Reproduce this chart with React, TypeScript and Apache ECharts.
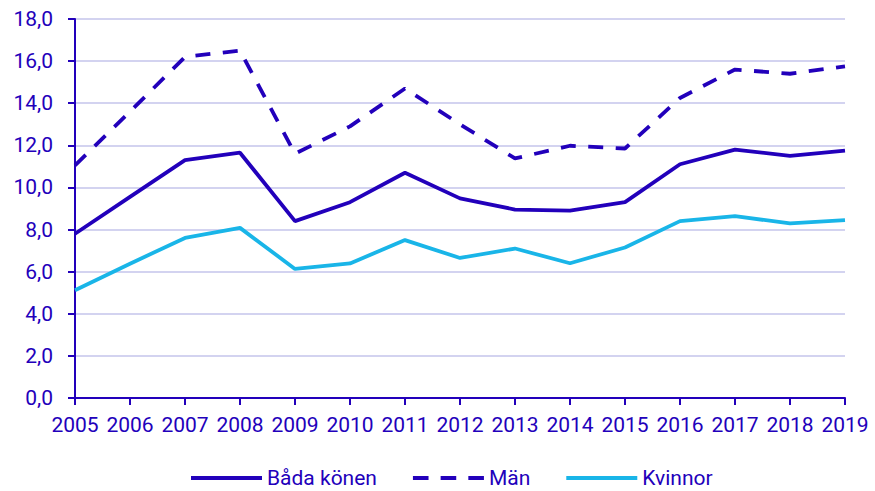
import React, { useEffect, useRef } from "react";
import * as echarts from "echarts";

const years = ["2005","2006","2007","2008","2009","2010","2011","2012","2013","2014","2015","2016","2017","2018","2019"];
const badaKonen = [7.8, 9.55, 11.3, 11.65, 8.4, 9.3, 10.7, 9.48, 8.95, 8.9, 9.3, 11.1, 11.8, 11.5, 11.75];
const man = [11.05, 13.6, 16.2, 16.5, 11.6, 12.9, 14.7, 13.0, 11.38, 11.98, 11.85, 14.25, 15.6, 15.4, 15.75];
const kvinnor = [5.12, 6.38, 7.6, 8.08, 6.13, 6.39, 7.5, 6.65, 7.1, 6.4, 7.15, 8.4, 8.64, 8.29, 8.45];

const DARK = "#2200bb";
const LIGHT = "#19b5e8";
const FONT = "Roboto";

const SOLID_ICON = "path://M0,0h71v4h-71z";
const DASH_ICON = "path://M0,0h15.6v4h-15.6z M27.7,0h15.6v4h-15.6z M55.4,0h15.6v4h-15.6z";

export default function App() {
  const ref = useRef<HTMLDivElement>(null);
  useEffect(() => {
    const chart = echarts.init(ref.current!, null, { renderer: "svg" });
    chart.setOption({
      animation: false,
      textStyle: { fontFamily: FONT },
      grid: { left: 75, right: 30, top: 19, bottom: 93 },
      legend: {
        top: 467,
        left: 191,
        padding: 0,
        itemWidth: 71,
        itemHeight: 4,
        itemGap: 36,
        textStyle: { color: DARK, fontSize: 21, fontFamily: FONT, lineHeight: 22 },
        data: [
          { name: "Båda könen", icon: SOLID_ICON, itemStyle: { color: DARK } },
          { name: "Män", icon: DASH_ICON, itemStyle: { color: DARK } },
          { name: "Kvinnor", icon: SOLID_ICON, itemStyle: { color: LIGHT } },
        ],
      },
      xAxis: {
        type: "category",
        data: years,
        boundaryGap: false,
        axisLine: { lineStyle: { color: DARK, width: 2 } },
        axisTick: { lineStyle: { color: DARK, width: 2 }, length: 7, alignWithLabel: true },
        axisLabel: { color: DARK, fontSize: 21, margin: 16, interval: 0 },
        splitLine: { show: false },
      },
      yAxis: {
        type: "value",
        min: 0,
        max: 18,
        interval: 2,
        axisLine: { show: true, lineStyle: { color: DARK, width: 2 } },
        axisTick: { show: true, lineStyle: { color: DARK, width: 2 }, length: 7 },
        axisLabel: {
          color: DARK,
          fontSize: 21,
          margin: 22,
          formatter: (v: number) => v.toFixed(1).replace(".", ","),
        },
        splitLine: { lineStyle: { color: "#d3d3f0", width: 2 } },
      },
      series: [
        {
          name: "Båda könen",
          type: "line",
          data: badaKonen,
          symbol: "none",
          lineStyle: { color: DARK, width: 3.8 },
          itemStyle: { color: DARK },
        },
        {
          name: "Män",
          type: "line",
          data: man,
          symbol: "none",
          lineStyle: { color: DARK, width: 3.8, type: [15, 12.5] },
          itemStyle: { color: DARK },
        },
        {
          name: "Kvinnor",
          type: "line",
          data: kvinnor,
          symbol: "none",
          lineStyle: { color: LIGHT, width: 3.8 },
          itemStyle: { color: LIGHT },
        },
      ],
    });
    return () => chart.dispose();
  }, []);
  return <div ref={ref} style={{ width: 875, height: 491, position: "absolute", left: 0, top: 0 }} />;
}
